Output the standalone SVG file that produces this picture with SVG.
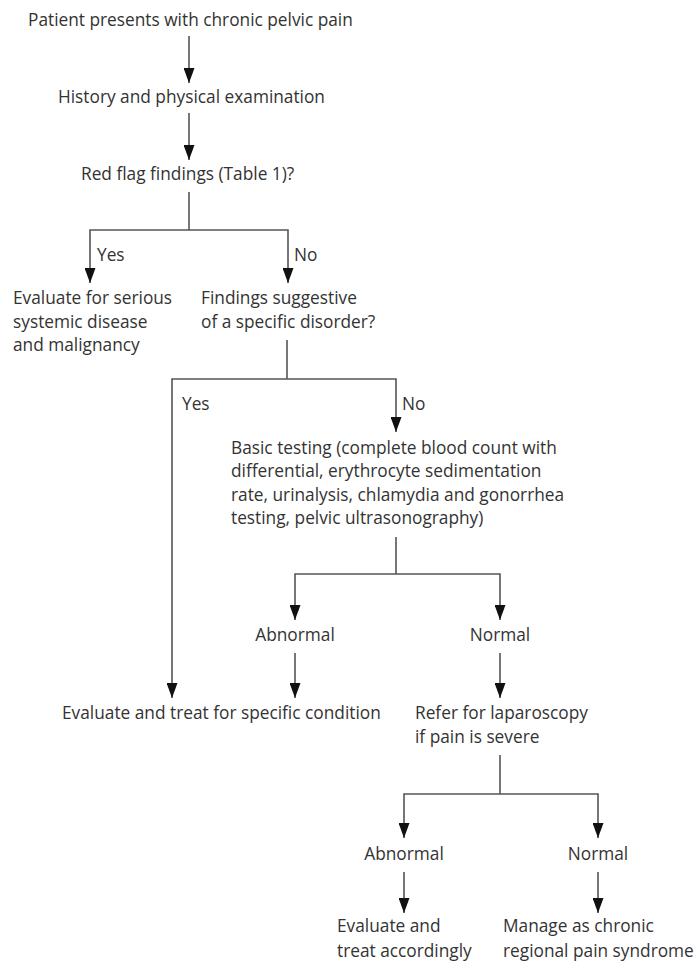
<svg xmlns="http://www.w3.org/2000/svg" width="696" height="967" viewBox="0 0 696 967">
<defs>
<marker id="ah" markerUnits="userSpaceOnUse" markerWidth="15" markerHeight="11" refX="15" refY="5.5" orient="auto">
<path d="M0,0 L15,5.5 L0,11 z" fill="#111"/>
</marker>
<style>
text{font-family:"Open Sans","Noto Sans","Liberation Sans",sans-serif;font-size:17.3px;fill:#333}
.c{text-anchor:middle}
.ln{fill:none;stroke:#555;stroke-width:1.6}
.ar{fill:none;stroke:#555;stroke-width:1.6;marker-end:url(#ah)}
</style>
</defs>
<rect width="696" height="967" fill="#fff"/>
<g id="connectors">
<line class="ar" x1="189" y1="36" x2="189" y2="83"/>
<line class="ar" x1="189" y1="113" x2="189" y2="160"/>
<polyline class="ln" points="189,192 189,230"/>
<polyline class="ar" points="189,230 90,230 90,283"/>
<polyline class="ar" points="189,230 288,230 288,283"/>
<polyline class="ln" points="287,340 287,379"/>
<polyline class="ar" points="287,379 172,379 172,698"/>
<polyline class="ar" points="287,379 396,379 396,432"/>
<polyline class="ln" points="396,537 396,574"/>
<polyline class="ar" points="396,574 295,574 295,620"/>
<polyline class="ar" points="396,574 500,574 500,620"/>
<line class="ar" x1="295" y1="653" x2="295" y2="698"/>
<line class="ar" x1="500" y1="653" x2="500" y2="698"/>
<polyline class="ln" points="500,755 500,794"/>
<polyline class="ar" points="500,794 404,794 404,838"/>
<polyline class="ar" points="500,794 598,794 598,838"/>
<line class="ar" x1="404" y1="872" x2="404" y2="913"/>
<line class="ar" x1="598" y1="872" x2="598" y2="913"/>
<text x="97" y="261">Yes</text>
<text x="294" y="261">No</text>
<text x="182" y="410">Yes</text>
<text x="402" y="410">No</text>
</g>
<g id="n1"><text x="28" y="26">Patient presents with chronic pelvic pain</text></g>
<g id="n2"><text x="58" y="103">History and physical examination</text></g>
<g id="n3"><text x="81" y="180">Red flag findings (Table 1)?</text></g>
<g id="n4"><text x="13" y="304">Evaluate for serious</text><text x="13" y="327.5">systemic disease</text><text x="13" y="351">and malignancy</text></g>
<g id="n5"><text x="201" y="304">Findings suggestive</text><text x="201" y="327.5">of a specific disorder?</text></g>
<g id="n6"><text x="231" y="454">Basic testing (complete blood count with</text><text x="231" y="477.3">differential, erythrocyte sedimentation</text><text x="231" y="500.7">rate, urinalysis, chlamydia and gonorrhea</text><text x="231" y="524">testing, pelvic ultrasonography)</text></g>
<g id="n7"><text class="c" x="295" y="641">Abnormal</text></g>
<g id="n8"><text class="c" x="500" y="641">Normal</text></g>
<g id="n9"><text x="62" y="719">Evaluate and treat for specific condition</text></g>
<g id="n10"><text x="415" y="719">Refer for laparoscopy</text><text x="415" y="743">if pain is severe</text></g>
<g id="n11"><text class="c" x="404" y="860">Abnormal</text></g>
<g id="n12"><text class="c" x="598" y="860">Normal</text></g>
<g id="n13"><text x="337" y="932">Evaluate and</text><text x="337" y="957">treat accordingly</text></g>
<g id="n14"><text x="503" y="932">Manage as chronic</text><text x="503" y="957">regional pain syndrome</text></g>
</svg>
